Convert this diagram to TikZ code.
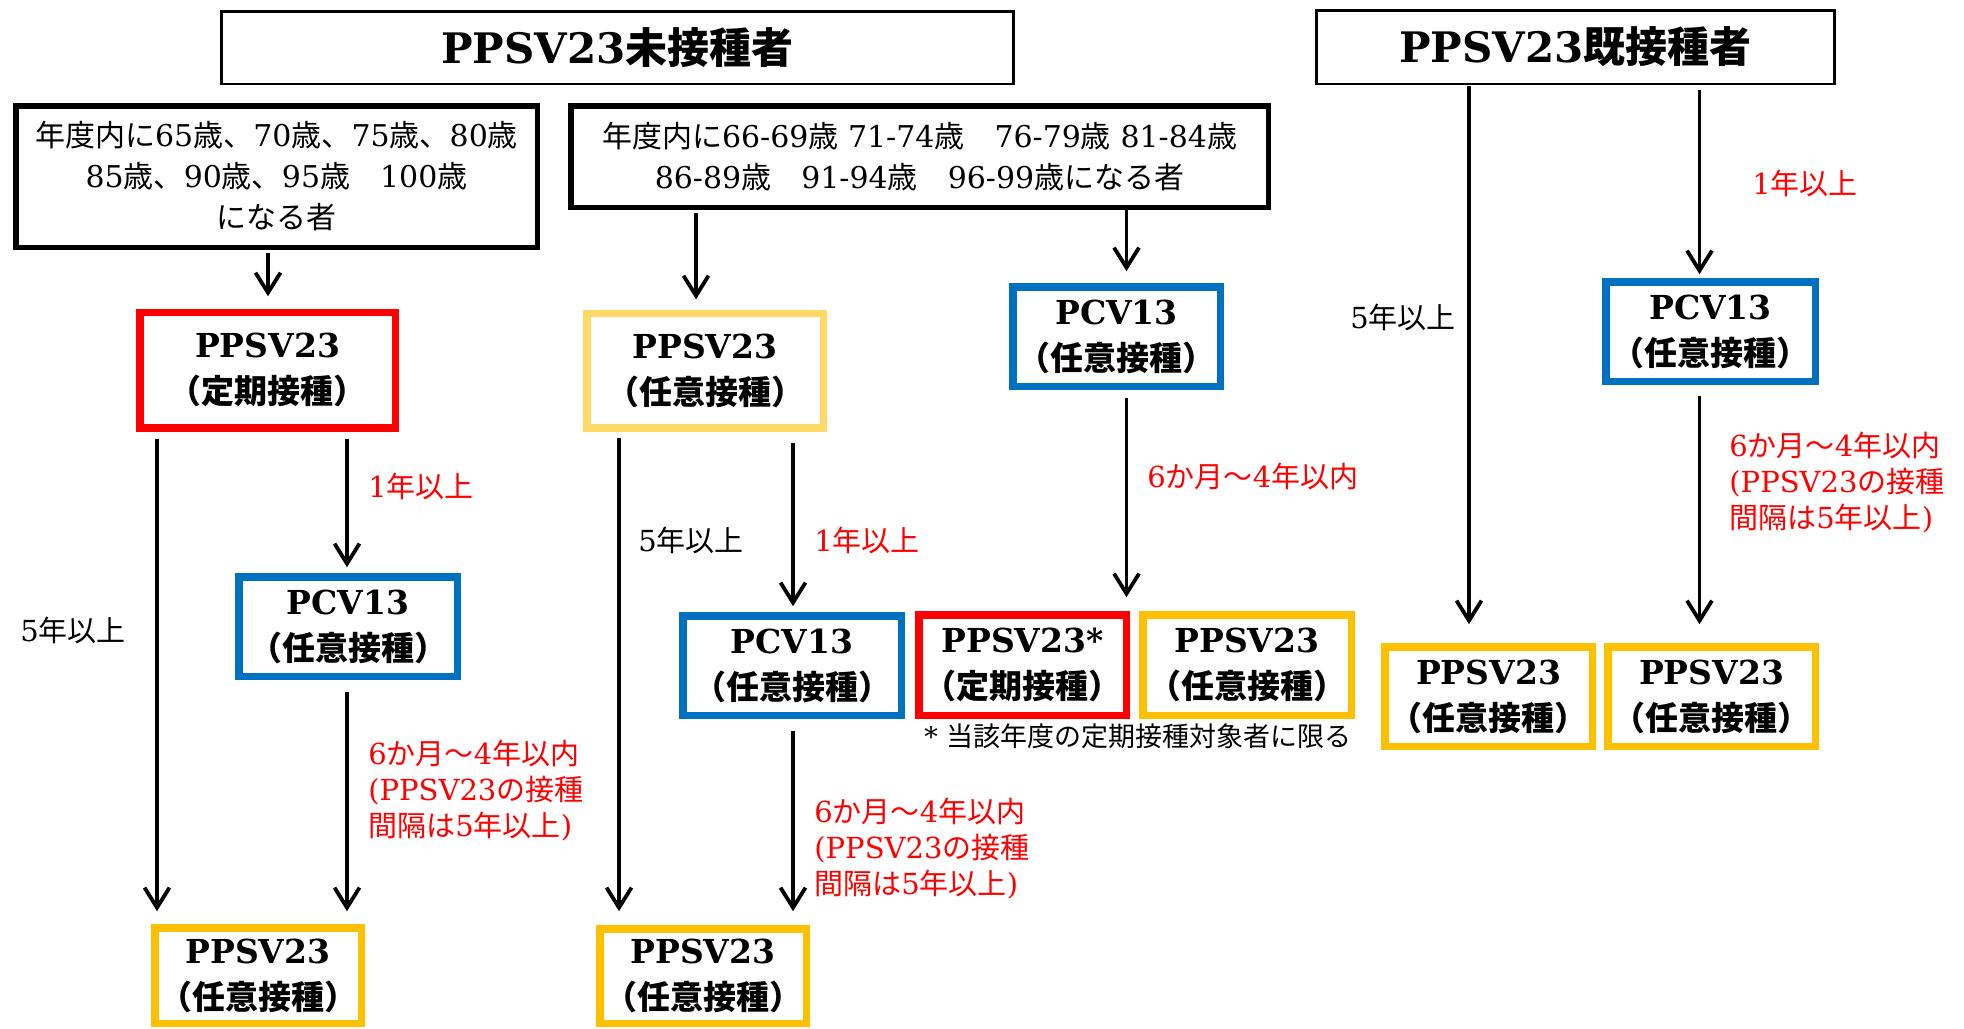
\documentclass[tikz,border=0pt]{standalone}
\usepackage{fontspec}
\usetikzlibrary{arrows.meta}
\setmainfont{DejaVu Serif}
\newfontfamily\jpFont{Noto Sans CJK JP}
\newcommand\jp[1]{{\jpFont #1}}
\definecolor{vRed}{HTML}{FF0000}
\definecolor{vBlue}{HTML}{0070C0}
\definecolor{vGold}{HTML}{FFC000}
\definecolor{vPale}{HTML}{FFD966}
\begin{document}
\begin{tikzpicture}[x=0.5pt,y=-0.5pt,
    >={Straight Barb[length=10pt,width=12.5pt,line width=1.9pt]},
    arr/.style={->, line width=1.75pt},
    hdr/.style={draw, line width=1.25pt, inner sep=0pt, font=\fontsize{21}{25}\selectfont\bfseries},
    ageBox/.style={draw, line width=2.75pt, align=center, inner sep=0pt, font=\fontsize{15}{20.5}\selectfont},
    vacBox/.style={draw=#1, line width=3.75pt, align=center, inner sep=1pt, font=\fontsize{16.5}{23}\selectfont\bfseries},
    lbl/.style={anchor=west, align=left, inner sep=0pt, text=vRed, font=\fontsize{14.5}{18}\selectfont},
    note/.style={anchor=west, inner sep=0pt, font=\fontsize{13.5}{16}\selectfont}]
    \useasboundingbox (0,0) rectangle (1964,1028);

    % headers
    \node[hdr, minimum width=396pt, minimum height=36.25pt] (hdrNew) at (617.5,47.5) {PPSV23\jp{未接種者}};
    \node[hdr, minimum width=259pt, minimum height=36.75pt] (hdrDone) at (1575.5,47) {PPSV23\jp{既接種者}};

    % age groups
    \node[ageBox, minimum width=260.75pt, minimum height=70.75pt] (ageFive) at (276.5,176.5)
        {\jp{年度内に}65\jp{歳、}70\jp{歳、}75\jp{歳、}80\jp{歳}\\85\jp{歳、}90\jp{歳、}95\jp{歳　}100\jp{歳}\\\jp{になる者}};
    \node[ageBox, minimum width=348.75pt, minimum height=50.75pt] (ageOther) at (919.5,156.5)
        {\jp{年度内に}66-69\jp{歳} 71-74\jp{歳　}76-79\jp{歳} 81-84\jp{歳}\\86-89\jp{歳　}91-94\jp{歳　}96-99\jp{歳になる者}};

    % vaccine boxes
    \node[vacBox=vRed, minimum width=127.75pt, minimum height=57.75pt] (ppsvReg) at (267.5,370) {PPSV23\\\jp{（定期接種）}};
    \node[vacBox=vPale, minimum width=118.25pt, minimum height=57.25pt] (ppsvOpt) at (705,370.5) {PPSV23\\\jp{（任意接種）}};
    \node[vacBox=vBlue, minimum width=109.25pt, minimum height=49.75pt] (pcvA) at (348,626.5) {PCV13\\\jp{（任意接種）}};
    \node[vacBox=vGold, minimum width=103.25pt, minimum height=47.75pt] (ppsvA) at (258,975.5) {PPSV23\\\jp{（任意接種）}};
    \node[vacBox=vBlue, minimum width=109.25pt, minimum height=49.75pt] (pcvB) at (792,665.5) {PCV13\\\jp{（任意接種）}};
    \node[vacBox=vGold, minimum width=103.25pt, minimum height=47.25pt] (ppsvB) at (703,976) {PPSV23\\\jp{（任意接種）}};
    \node[vacBox=vBlue, minimum width=103.75pt, minimum height=49.75pt] (pcvC) at (1116.5,336.5) {PCV13\\\jp{（任意接種）}};
    \node[vacBox=vRed, minimum width=103.75pt, minimum height=50.25pt] (ppsvStar) at (1022.5,665) {PPSV23*\\\jp{（定期接種）}};
    \node[vacBox=vGold, minimum width=104.25pt, minimum height=50.25pt] (ppsvC) at (1247,665) {PPSV23\\\jp{（任意接種）}};
    \node[vacBox=vBlue, minimum width=104.75pt, minimum height=49.75pt] (pcvD) at (1710.5,331.5) {PCV13\\\jp{（任意接種）}};
    \node[vacBox=vGold, minimum width=103.75pt, minimum height=49.75pt] (ppsvD) at (1488.5,696.5) {PPSV23\\\jp{（任意接種）}};
    \node[vacBox=vGold, minimum width=103.75pt, minimum height=49.75pt] (ppsvE) at (1711.5,696.5) {PPSV23\\\jp{（任意接種）}};

    % arrow columns
    \coordinate (colA) at (268,0);
    \coordinate (colB) at (157,0);
    \coordinate (colC) at (347,0);
    \coordinate (colD) at (696,0);
    \coordinate (colE) at (619,0);
    \coordinate (colF) at (793,0);
    \coordinate (colG) at (1126.5,0);
    \coordinate (colH) at (1469,0);
    \coordinate (colI) at (1699.5,0);

    \draw[arr, shorten <=1.4pt, shorten >=6.1pt] (colA |- ageFive.south) -- (colA |- ppsvReg.north);
    \draw[arr, shorten <=1.4pt, shorten >=5.1pt] (colD |- ageOther.south) -- (colD |- ppsvOpt.north);
    \draw[arr, shorten <=0pt, shorten >=5.9pt] (colG |- ageOther.south) -- (colG |- pcvC.north);
    \draw[arr, shorten <=3.6pt, shorten >=6.4pt] (colB |- ppsvReg.south) -- (colB |- ppsvA.north);
    \draw[arr, shorten <=3.6pt, shorten >=2.9pt] (colC |- ppsvReg.south) -- (colC |- pcvA.north);
    \draw[arr, shorten <=5.9pt, shorten >=6.4pt] (colC |- pcvA.south) -- (colC |- ppsvA.north);
    \draw[arr, shorten <=3.3pt, shorten >=6.9pt] (colE |- ppsvOpt.south) -- (colE |- ppsvB.north);
    \draw[arr, shorten <=5.8pt, shorten >=2.9pt] (colF |- ppsvOpt.south) -- (colF |- pcvB.north);
    \draw[arr, shorten <=5.9pt, shorten >=6.9pt] (colF |- pcvB.south) -- (colF |- ppsvB.north);
    \draw[arr, shorten <=3.9pt, shorten >=6.9pt] (colG |- pcvC.south) -- (colG |- ppsvStar.north);
    \draw[arr, shorten <=0.6pt, shorten >=9.4pt] (colH |- hdrDone.south) -- (colH |- ppsvD.north);
    \draw[arr, shorten <=2.6pt, shorten >=1.9pt] (colI |- hdrDone.south) -- (colI |- pcvD.north);
    \draw[arr, shorten <=5.6pt, shorten >=9.4pt] (colI |- pcvD.south) -- (colI |- ppsvE.north);

    % interval labels
    \node[lbl] (gapA) at (368,486) {1\jp{年以上}};
    \node[lbl, text=black] (gapB) at (20,630) {5\jp{年以上}};
    \node[lbl] (gapC) at (368,791) {6\jp{か月～}4\jp{年以内}\\(PPSV23\jp{の接種}\\\jp{間隔は}5\jp{年以上})};
    \node[lbl, text=black] (gapD) at (638,540) {5\jp{年以上}};
    \node[lbl] (gapE) at (814,540) {1\jp{年以上}};
    \node[lbl] (gapF) at (814,849) {6\jp{か月～}4\jp{年以内}\\(PPSV23\jp{の接種}\\\jp{間隔は}5\jp{年以上})};
    \node[lbl] (gapG) at (1147,476) {6\jp{か月～}4\jp{年以内}};
    \node[lbl, text=black] (gapH) at (1350,317) {5\jp{年以上}};
    \node[lbl] (gapI) at (1752,183) {1\jp{年以上}};
    \node[lbl] (gapJ) at (1729,483) {6\jp{か月～}4\jp{年以内}\\(PPSV23\jp{の接種}\\\jp{間隔は}5\jp{年以上})};
    \node[note] (starNote) at (924,736) {* \jp{当該年度の定期接種対象者に限る}};
\end{tikzpicture}
\end{document}
